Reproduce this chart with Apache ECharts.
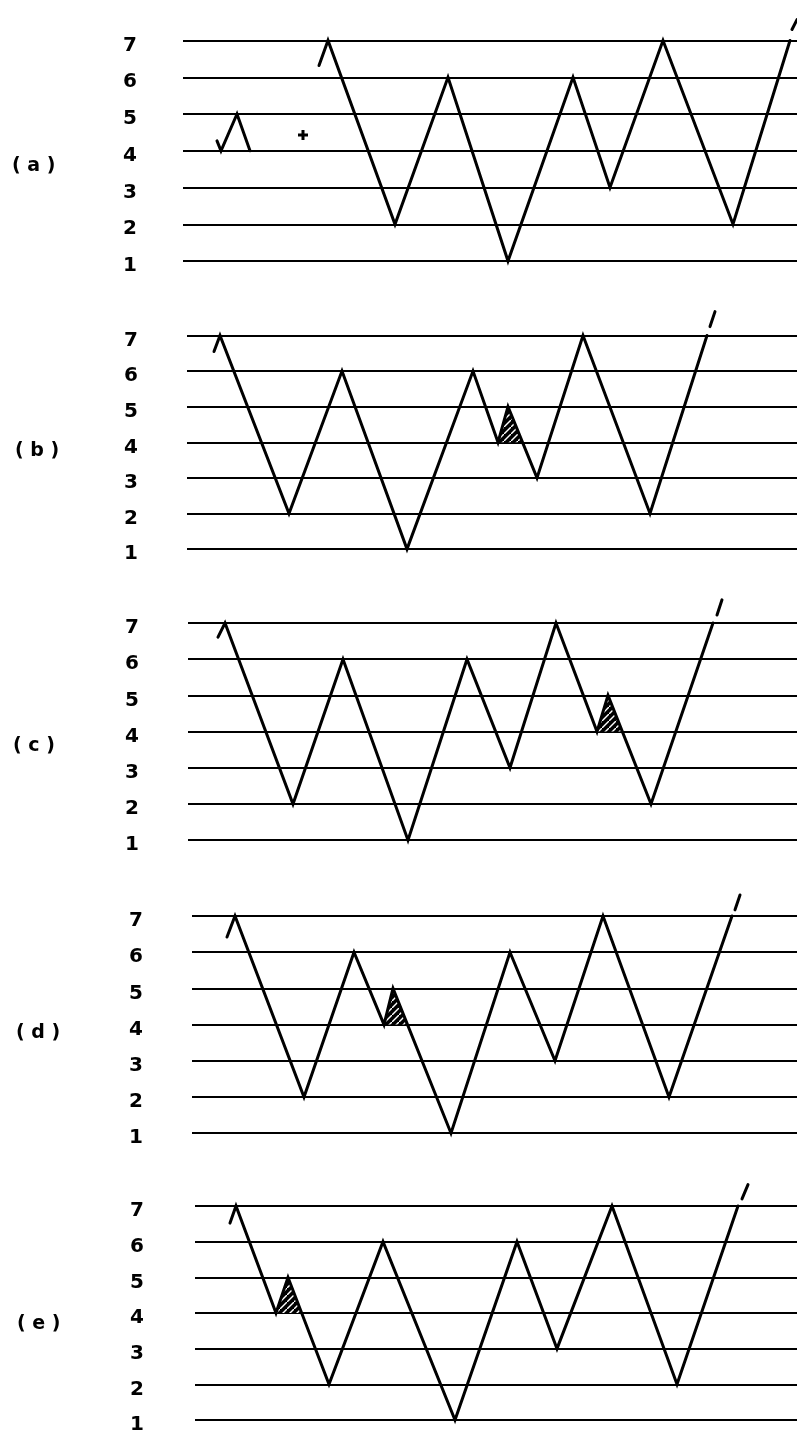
<!DOCTYPE html>
<html>
<head>
<meta charset="utf-8">
<script src="https://cdn.jsdelivr.net/npm/echarts@6/dist/echarts.min.js"></script>
<style>
html,body{margin:0;padding:0;background:#fff;}
#chart{width:797px;height:1435px;}
</style>
</head>
<body>
<div id="chart"></div>
<script>
// ---- data (x = time units, y = level 1..7) ----
const yTicks = ['1', '2', '3', '4', '5', '6', '7'];
const panelNames = ['( a )', '( b )', '( c )', '( d )', '( e )'];

// panel (a)
const aMainX = [13.9, 14.8, 21.5, 26.8, 32.8, 39.3, 43.0, 48.3, 55.3, 61.0];
const aMainY = [6.32, 7, 2, 6, 1, 6, 3, 7, 2, 7];
const aSmallX = [3.7, 4.1, 5.7, 7.0];
const aSmallY = [4.27, 4, 5, 4];
const aPlus = [12.3, 4.43];
const aTickX = [61.2, 61.7];
const aTickY = [7.3, 7.57];

// panel (b)
const bX = [3.4, 4.0, 10.9, 16.2, 22.7, 29.3, 31.8, 32.8, 35.7, 40.3, 47.0, 52.7];
const bY = [6.55, 7, 2, 6, 1, 6, 4, 5, 3, 7, 2, 7];
const bTickX = [53.0, 53.5];
const bTickY = [7.25, 7.67];
const bHatch = 6;

// panel (c)
const cX = [3.8, 4.5, 11.3, 16.3, 22.8, 28.7, 33.0, 37.6, 41.7, 42.8, 47.1, 53.3];
const cY = [6.61, 7, 2, 6, 1, 6, 3, 7, 4, 5, 2, 7];
const cTickX = [53.7, 54.2];
const cTickY = [7.22, 7.64];
const cHatch = 8;

// panel (d)
const dX = [4.7, 5.5, 12.4, 17.4, 20.4, 21.3, 27.1, 33.0, 37.5, 42.3, 48.9, 55.2];
const dY = [6.42, 7, 2, 6, 4, 5, 1, 6, 3, 7, 2, 7];
const dTickX = [55.5, 56.0];
const dTickY = [7.17, 7.58];
const dHatch = 4;

// panel (e)
const eX = [5.0, 5.6, 9.6, 10.8, 14.9, 20.3, 27.5, 33.7, 37.7, 43.2, 49.7, 55.8];
const eY = [6.52, 7, 4, 5, 2, 6, 1, 6, 3, 7, 2, 7];
const eTickX = [56.2, 56.8];
const eTickY = [7.2, 7.6];
const eHatch = 2;

// ---- layout ----
const panels = [
  {left: 183, top: 3.75, height: 257.25, labelMargin: 53, nameX: 12, nameY: 166},
  {left: 187, top: 299.9, height: 249.2, labelMargin: 56, nameX: 15, nameY: 451},
  {left: 188, top: 586.8, height: 253.4, labelMargin: 56, nameX: 13, nameY: 746},
  {left: 192, top: 879.8, height: 253.4, labelMargin: 56, nameX: 16, nameY: 1033},
  {left: 195, top: 1170.3, height: 249.9, labelMargin: 58, nameX: 17, nameY: 1324}
];
const X_ORIGIN_PX = 180, PX_PER_UNIT = 10, X_MAX = 61.7;

function zip(xs, ys) { return xs.map((x, i) => [x, ys[i]]); }

// hatch pattern
const pat = document.createElement('canvas');
pat.width = 7; pat.height = 7;
(function () {
  const g = pat.getContext('2d');
  g.fillStyle = '#000'; g.fillRect(0, 0, 7, 7);
  g.strokeStyle = '#fff'; g.lineWidth = 1.4;
  g.beginPath();
  g.moveTo(-1, 8); g.lineTo(8, -1);
  g.stroke();
})();

function hatchItem(xs, ys, i) {
  const x1 = xs[i], y1 = ys[i], x2 = xs[i + 1], y2 = ys[i + 1], x4 = xs[i + 2], y4 = ys[i + 2];
  const f = (y2 - y1) / (y2 - y4);
  const x3 = x2 + (x4 - x2) * f;
  return [x1, y1, x2, y2, x3, y1];
}

const grids = [], xAxes = [], yAxes = [], series = [], graphics = [];
const font = 'DejaVu Sans';

panels.forEach((p, k) => {
  grids.push({left: p.left, right: 0, top: p.top, height: p.height});
  xAxes.push({
    type: 'value', gridIndex: k, show: false,
    min: (p.left - X_ORIGIN_PX) / PX_PER_UNIT, max: X_MAX
  });
  yAxes.push({
    type: 'value', gridIndex: k, min: 1, max: 8, interval: 1,
    axisLine: {show: false}, axisTick: {show: false},
    splitLine: {show: true, showMinLine: true, showMaxLine: false,
      lineStyle: {color: '#000', width: 2}},
    axisLabel: {
      margin: p.labelMargin, align: 'center', verticalAlign: 'middle',
      lineHeight: 10,
      fontFamily: font, fontWeight: 'bold', fontSize: 20, color: '#000',
      formatter: v => (v >= 1 && v <= 7) ? '\n' + yTicks[v - 1] : ''
    }
  });
  graphics.push({
    type: 'text', x: p.nameX, y: p.nameY,
    style: {text: panelNames[k], font: 'bold 19px "DejaVu Sans"', fill: '#000',
      verticalAlign: 'middle', align: 'left'}
  });
});

const lineStyle = {color: '#000', width: 3, join: 'miter', miterLimit: 20, cap: 'round'};
function addLine(k, data) {
  series.push({
    type: 'line', xAxisIndex: k, yAxisIndex: k, data: data, clip: false,
    symbol: 'none', silent: true, animation: false, z: 3,
    lineStyle: lineStyle
  });
}
function addHatch(k, item) {
  series.push({
    type: 'custom', xAxisIndex: k, yAxisIndex: k, z: 2, animation: false, silent: true,
    clip: false,
    data: [item],
    encode: {x: [0, 2, 4], y: [1, 3, 5]},
    renderItem: function (params, api) {
      const pts = [0, 2, 4].map(j => api.coord([api.value(j), api.value(j + 1)]));
      return {type: 'polygon', shape: {points: pts},
        style: {fill: {image: pat, repeat: 'repeat'}, stroke: null}};
    }
  });
}

// (a)
addLine(0, zip(aSmallX, aSmallY));
addLine(0, zip(aMainX, aMainY));
addLine(0, zip(aTickX, aTickY));
series.push({
  type: 'scatter', xAxisIndex: 0, yAxisIndex: 0, data: [aPlus], animation: false, silent: true,
  symbol: 'path://M3.5,0H6.5V3.5H10V6.5H6.5V10H3.5V6.5H0V3.5H3.5Z', symbolSize: 10,
  itemStyle: {color: '#000', opacity: 1}
});
// (b)
addLine(1, zip(bX, bY)); addLine(1, zip(bTickX, bTickY)); addHatch(1, hatchItem(bX, bY, bHatch));
// (c)
addLine(2, zip(cX, cY)); addLine(2, zip(cTickX, cTickY)); addHatch(2, hatchItem(cX, cY, cHatch));
// (d)
addLine(3, zip(dX, dY)); addLine(3, zip(dTickX, dTickY)); addHatch(3, hatchItem(dX, dY, dHatch));
// (e)
addLine(4, zip(eX, eY)); addLine(4, zip(eTickX, eTickY)); addHatch(4, hatchItem(eX, eY, eHatch));

const chart = echarts.init(document.getElementById('chart'), null, {renderer: 'canvas'});
chart.setOption({
  backgroundColor: '#fff',
  animation: false,
  grid: grids, xAxis: xAxes, yAxis: yAxes, series: series, graphic: graphics
});
</script>
</body>
</html>
